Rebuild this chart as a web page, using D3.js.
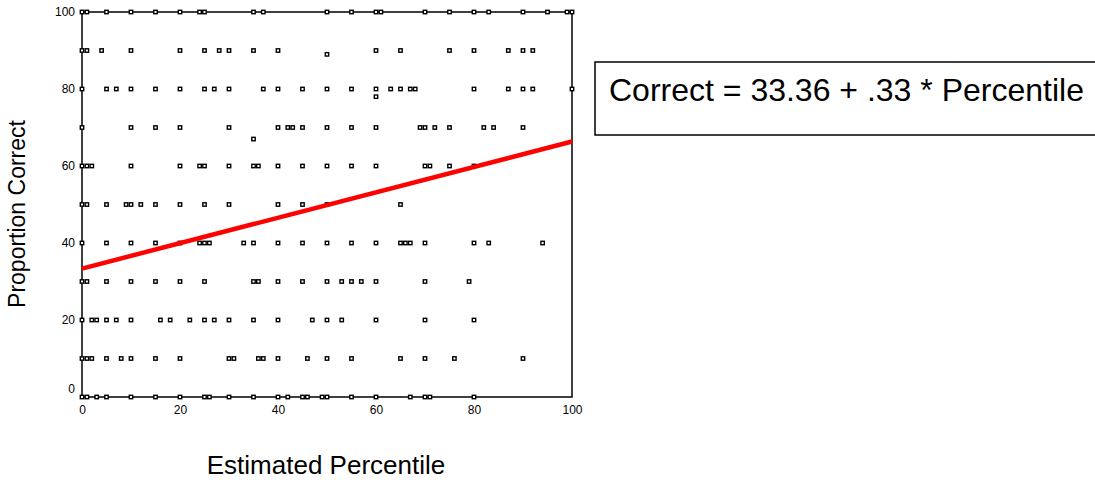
<!DOCTYPE html>
<html>
<head>
<meta charset="utf-8">
<script src="https://cdn.jsdelivr.net/npm/d3@7"></script>
<style>
  body { margin: 0; background: #fff; }
  text { font-family: Arial, "Liberation Sans", sans-serif; }
</style>
</head>
<body>
<svg id="chart" width="1095" height="480"></svg>
<script>
// estimated percentile values, one list for each proportion-correct level
var at100 = [0, 1, 5, 10, 15, 20, 24, 25, 35, 37, 50, 55, 60, 61, 70, 75, 80, 83, 90, 95, 99, 100];
var at90 = [0, 1, 4, 10, 20, 25, 28, 30, 35, 40, 60, 65, 75, 80, 87, 90, 92];
var at80 = [0, 5, 7, 10, 15, 20, 25, 27, 30, 37, 40, 45, 50, 55, 60, 63, 65, 67, 68, 80, 87, 90, 92, 100];
var at70 = [0, 10, 15, 20, 30, 40, 42, 43, 45, 50, 55, 60, 69, 70, 72, 75, 82, 84, 90];
var at60 = [0, 1, 2, 10, 20, 24, 25, 30, 35, 36, 40, 45, 50, 55, 60, 70, 71, 75, 80];
var at50 = [0, 1, 5, 9, 10, 12, 15, 20, 25, 30, 40, 45, 50, 65];
var at40 = [0, 5, 10, 15, 20, 24, 25, 26, 33, 35, 40, 45, 50, 55, 60, 65, 66, 67, 70, 80, 83, 94];
var at30 = [0, 1, 5, 10, 15, 20, 25, 35, 36, 40, 45, 50, 53, 55, 57, 60, 70, 79];
var at20 = [0, 2, 3, 5, 7, 10, 16, 18, 22, 25, 27, 30, 35, 40, 47, 50, 53, 60, 70, 80];
var at10 = [0, 1, 2, 5, 8, 10, 15, 20, 30, 31, 36, 37, 40, 46, 50, 55, 65, 70, 76, 90];
var at0 = [0, 1, 3, 5, 10, 15, 20, 25, 26, 30, 35, 40, 42, 45, 46, 49, 50, 55, 60, 67, 70, 71, 80];
// the few points off the 10-step levels
var oddX = [50, 60, 35];
var oddY = [89, 78, 67];

var levels = [100, 90, 80, 70, 60, 50, 40, 30, 20, 10, 0];
var rows = [at100, at90, at80, at70, at60, at50, at40, at30, at20, at10, at0];

var intercept = 33.36, slope = 0.33;
var ticks = [0, 20, 40, 60, 80, 100];
var equation = "Correct = 33.36 + .33 * Percentile";

var points = [];
rows.forEach(function(r, i) {
  r.forEach(function(p) { points.push({x: p, y: levels[i]}); });
});
oddX.forEach(function(p, i) { points.push({x: p, y: oddY[i]}); });

var svg = d3.select("#chart");

var x = d3.scaleLinear().domain([0, 100]).range([82, 572]);
var y = d3.scaleLinear().domain([0, 100]).range([397, 12]);

// frame
svg.append("rect")
  .attr("x", x(0)).attr("y", y(100))
  .attr("width", x(100) - x(0)).attr("height", y(0) - y(100))
  .attr("fill", "none").attr("stroke", "#000").attr("stroke-width", 1.5);

var yAxis = svg.append("g")
  .attr("transform", "translate(" + x(0) + ",0)")
  .call(d3.axisLeft(y).tickValues(ticks).tickSize(0).tickPadding(7));
yAxis.select(".domain").remove();
yAxis.selectAll("text").style("font-size", "12px").attr("fill", "#000")
  .attr("dy", function(d) { return d == 0 ? "-0.4em" : "0.32em"; });

var xAxis = svg.append("g")
  .attr("transform", "translate(0," + y(0) + ")")
  .call(d3.axisBottom(x).tickValues(ticks).tickSize(0).tickPadding(8));
xAxis.select(".domain").remove();
xAxis.selectAll("text").style("font-size", "12px").attr("fill", "#000");

svg.selectAll(".pt")
  .data(points)
  .enter().append("rect")
  .attr("class", "pt")
  .attr("x", function(d) { return x(d.x) - 1.7; })
  .attr("y", function(d) { return y(d.y) - 1.7; })
  .attr("width", 3.4).attr("height", 3.4)
  .attr("fill", "#fff").attr("stroke", "#000").attr("stroke-width", 1.4);

// fit line
svg.append("line")
  .attr("x1", x(0)).attr("y1", y(intercept))
  .attr("x2", x(100)).attr("y2", y(intercept + slope * 100))
  .attr("stroke", "#ff0000").attr("stroke-width", 4.5);

// axis titles
svg.append("text")
  .attr("transform", "translate(25,214) rotate(-90)")
  .attr("text-anchor", "middle")
  .style("font-size", "23px")
  .text("Proportion Correct");

svg.append("text")
  .attr("x", 326).attr("y", 474)
  .attr("text-anchor", "middle")
  .style("font-size", "26px")
  .text("Estimated Percentile");

// equation box
svg.append("rect")
  .attr("x", 595).attr("y", 62)
  .attr("width", 520).attr("height", 73)
  .attr("fill", "none").attr("stroke", "#000").attr("stroke-width", 1.5);

svg.append("text")
  .attr("x", 609).attr("y", 101)
  .style("font-size", "32px")
  .text(equation);
</script>
</body>
</html>
